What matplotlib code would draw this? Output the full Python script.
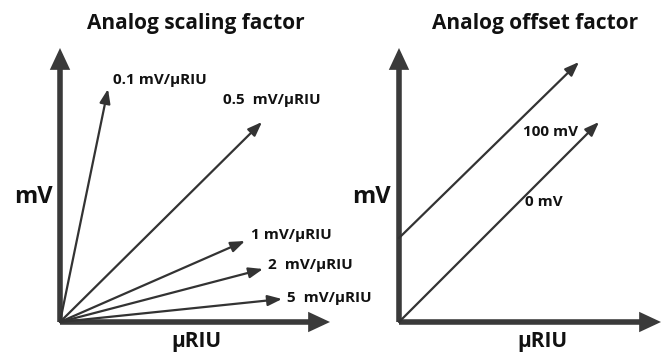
import matplotlib
matplotlib.use("Agg")
import matplotlib.pyplot as plt

W, H = 662, 352
DPI = 100

# ---- data (panel units, origin at axis corner) ----
scale_labels = ["0.1 mV/μRIU", "0.5  mV/μRIU", "1 mV/μRIU", "2  mV/μRIU", "5  mV/μRIU"]
scale_end_x = [48, 202, 185, 203, 222]
scale_end_y = [233, 200, 81, 53, 23]
scale_lab_x = [53, 163, 191, 208, 227]
scale_lab_y = [242, 222, 87, 57, 24]

offset_labels = ["100 mV", "0 mV"]
offset_start_y = [84, 0]
offset_end_x = [180, 200]
offset_end_y = [260, 200]
offset_lab_x = [124, 126]
offset_lab_y = [190, 120]

titles = ["Analog scaling factor", "Analog offset factor"]

AX_COL = "#3a3a3a"
LN_COL = "#333333"
TXT = "#111111"
FONT = "Open Sans"

fig = plt.figure(figsize=(W / DPI, H / DPI), dpi=DPI)
fig.patch.set_facecolor("white")


def make_axes(x0, y0, x1, y1):
    ax = fig.add_axes([x0 / W, (H - y0) / H, (x1 - x0) / W, (y0 - y1) / H])
    ax.set_xlim(0, x1 - x0)
    ax.set_ylim(0, y0 - y1)
    ax.axis("off")
    return ax


def axis_arrows(ax):
    xm, ym = ax.get_xlim()[1], ax.get_ylim()[1]
    for end in [(xm, 0), (0, ym)]:
        ax.annotate("", xy=end, xytext=(0, 0), annotation_clip=False,
                    arrowprops=dict(arrowstyle="-|>,head_length=0.9,head_width=0.42",
                                    color=AX_COL, lw=4, shrinkA=0, shrinkB=0,
                                    capstyle="butt", joinstyle="miter"))


def line_arrow(ax, start, end):
    ax.annotate("", xy=end, xytext=start, annotation_clip=False,
                arrowprops=dict(arrowstyle="-|>,head_length=0.85,head_width=0.32",
                                color=LN_COL, lw=1.6, shrinkA=0, shrinkB=0))


LAB_SIZE = 11

# left panel
axL = make_axes(60, 322, 330, 48)
axis_arrows(axL)
for lab, ex, ey, lx, ly in zip(scale_labels, scale_end_x, scale_end_y, scale_lab_x, scale_lab_y):
    line_arrow(axL, (0, 0), (ex, ey))
    axL.text(lx, ly, lab, ha="left", va="center", fontsize=LAB_SIZE, fontweight="bold",
             family=FONT, color=TXT)

# right panel
axR = make_axes(399, 322, 661, 48)
axis_arrows(axR)
for lab, sy, ex, ey, lx, ly in zip(offset_labels, offset_start_y, offset_end_x, offset_end_y,
                                   offset_lab_x, offset_lab_y):
    line_arrow(axR, (0, sy), (ex, ey))
    axR.text(lx, ly, lab, ha="left", va="center", fontsize=LAB_SIZE, fontweight="bold",
             family=FONT, color=TXT)


def ftext(x, y, s, size, **kw):
    fig.text(x / W, 1 - y / H, s, ha="center", va="center", fontsize=size,
             fontweight="bold", family=FONT, color=TXT, **kw)

ftext(196, 24, titles[0], 15)
ftext(535, 24, titles[1], 15)
ftext(33, 197, "mV", 17)
ftext(371, 197, "mV", 17)
ftext(196, 342, "μRIU", 15)
ftext(542, 342, "μRIU", 15)

fig.savefig("out.png", dpi=DPI, facecolor="white")
